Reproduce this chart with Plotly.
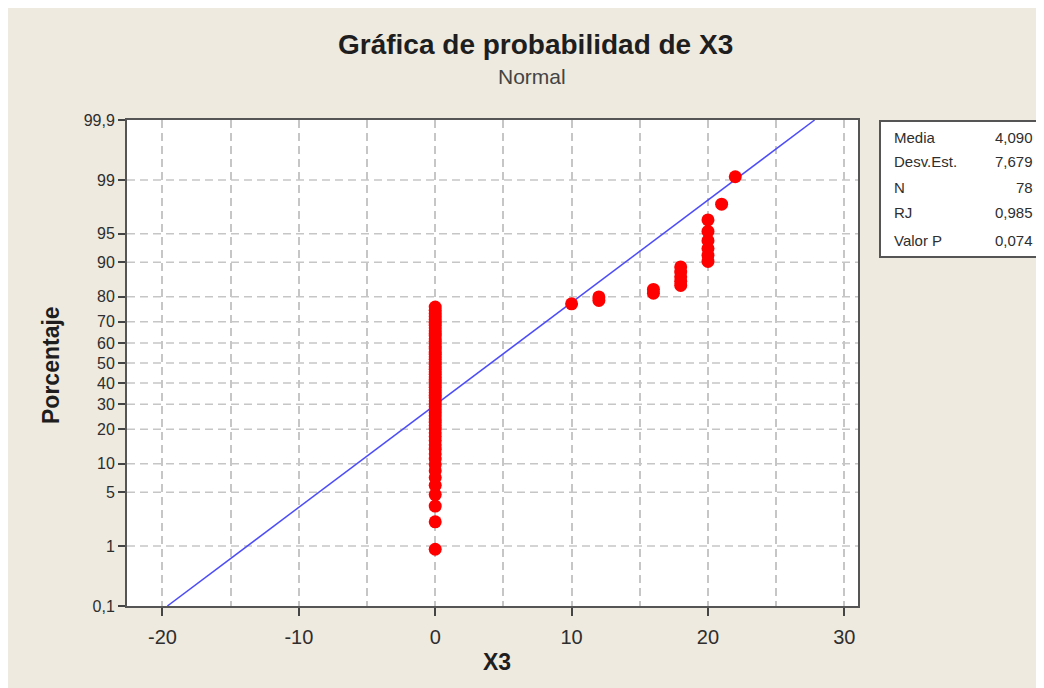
import plotly.graph_objects as go
from statistics import NormalDist

# ---- data (X3 values and their frequencies) ----
x3_values = [0, 10, 12, 16, 18, 20, 21, 22]
x3_counts = [60, 1, 2, 2, 5, 6, 1, 1]

# fitted normal parameters and summary statistics (from the stats box)
media = 4.090
desv_est = 7.679
stat_labels = ["Media", "Desv.Est.", "N", "RJ", "Valor P"]
stat_values = ["4,090", "7,679", "78", "0,985", "0,074"]

# probability axis ticks (percent)
y_tick_pct = [0.1, 1, 5, 10, 20, 30, 40, 50, 60, 70, 80, 90, 95, 99, 99.9]
y_tick_text = ["0,1", "1", "5", "10", "20", "30", "40", "50", "60", "70", "80", "90", "95", "99", "99,9"]
x_tick_vals = [-20, -10, 0, 10, 20, 30]
x_tick_text = ["-20", "-10", "0", "10", "20", "30"]

# ---- derived ----
nd = NormalDist()
xs = []
for v, c in zip(x3_values, x3_counts):
    xs.extend([v] * c)
xs.sort()
n = len(xs)
# median ranks (Benard) as used by Minitab
pcts = [(i - 0.3) / (n + 0.4) for i in range(1, n + 1)]
zs = [nd.inv_cdf(p) for p in pcts]

z_lo = nd.inv_cdf(0.001)
z_hi = nd.inv_cdf(0.999)
line_z = [z_lo, z_hi]
line_x = [media + desv_est * z for z in line_z]

y_tick_z = [nd.inv_cdf(p / 100.0) for p in y_tick_pct]

BG = "#EEEAE0"
TXT = "#2E2E2E"
DARK = "#1E1E1E"
GRID = "#C6C6C6"
DASH = "8px,5px"
FONT = "Liberation Sans, Arial, sans-serif"

# plot-area geometry in figure pixels
L, R, T, B = 119, 850, 112, 598
W, H = 1044, 688
pw, ph = float(R - L), float(B - T)


def px(xp):
    return (xp - L) / pw


def py(yp):
    return 1 - (yp - T) / ph


fig = go.Figure()
fig.add_trace(go.Scatter(x=line_x, y=line_z, mode="lines",
                         line=dict(color="#4D4DF7", width=1.5),
                         hoverinfo="skip", showlegend=False))
fig.add_trace(go.Scatter(x=xs, y=zs, mode="markers",
                         marker=dict(color="#FF0000", size=13, line=dict(width=0)),
                         showlegend=False))

# horizontal grid lines (dashed) at inner probability ticks
for z in y_tick_z[1:-1]:
    fig.add_shape(type="line", xref="paper", x0=0, x1=1, yref="y", y0=z, y1=z,
                  line=dict(color=GRID, width=1.5, dash=DASH), layer="below")

fig.update_layout(
    width=W, height=H,
    paper_bgcolor=BG, plot_bgcolor="white",
    margin=dict(l=L, r=W - R, t=T, b=H - B),
    font=dict(family=FONT, color=TXT, size=15),
    showlegend=False,
)

fig.update_xaxes(
    range=[-22.6, 31.0], tickvals=x_tick_vals, ticktext=x_tick_text,
    ticks="outside", ticklen=8, tickwidth=2, tickcolor="#444444",
    ticklabelstandoff=4,
    showgrid=True, gridcolor=GRID, griddash=DASH, gridwidth=1.5,
    minor=dict(dtick=5, tick0=0, showgrid=True, gridcolor=GRID,
               griddash=DASH, gridwidth=1.5, ticks=""),
    showline=True, linecolor="#555555", linewidth=2, mirror=True,
    zeroline=False, tickfont=dict(size=20, color=TXT),
)
fig.update_yaxes(
    range=[z_lo, z_hi], tickvals=y_tick_z, ticktext=y_tick_text,
    ticks="outside", ticklen=7, tickwidth=2, tickcolor="#444444",
    showgrid=False, showline=True, linecolor="#555555", linewidth=2, mirror=True,
    zeroline=False, tickfont=dict(size=16, color=TXT),
)

# title and subtitle
fig.add_annotation(text="<b>Gráfica de probabilidad de X3</b>", xref="paper", yref="paper",
                   x=px(527), y=py(37), showarrow=False, xanchor="center", yanchor="middle",
                   font=dict(size=28, color=DARK))
fig.add_annotation(text="Normal", xref="paper", yref="paper", x=px(524), y=py(69),
                   showarrow=False, xanchor="center", yanchor="middle",
                   font=dict(size=21, color="#444444"))

# axis titles
fig.add_annotation(text="<b>X3</b>", xref="paper", yref="paper", x=px(489), y=py(654),
                   showarrow=False, xanchor="center", yanchor="middle",
                   font=dict(size=23, color=DARK))
fig.add_annotation(text="<b>Porcentaje</b>", xref="paper", yref="paper", x=px(43), y=py(357),
                   showarrow=False, xanchor="center", yanchor="middle", textangle=-90,
                   font=dict(size=23, color=DARK))

# stats box
fig.add_shape(type="rect", xref="paper", yref="paper",
              x0=px(872), x1=px(1032), y0=py(113), y1=py(249),
              line=dict(color="#555555", width=2), fillcolor="white")
row_y = [130, 154, 179, 204, 232]
for lab, val, ry in zip(stat_labels, stat_values, row_y):
    fig.add_annotation(text=lab, xref="paper", yref="paper", x=px(884), y=py(ry),
                       xanchor="left", yanchor="middle", showarrow=False,
                       font=dict(size=15, color=TXT))
    fig.add_annotation(text=val, xref="paper", yref="paper", x=px(1027), y=py(ry),
                       xanchor="right", yanchor="middle", showarrow=False,
                       font=dict(size=15, color=TXT))

fig.write_html("out.html")
